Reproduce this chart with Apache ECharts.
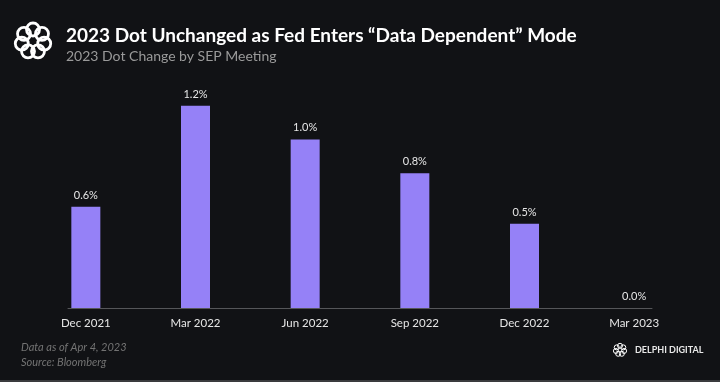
<!DOCTYPE html>
<html><head><meta charset="utf-8">
<script src="https://cdn.jsdelivr.net/npm/echarts@6/dist/echarts.min.js"></script>
<style>html,body{margin:0;padding:0;background:#111215;}#c{width:720px;height:382px;}</style>
</head><body><div id="c"></div>
<script>
const categories = ['Dec 2021','Mar 2022','Jun 2022','Sep 2022','Dec 2022','Mar 2023'];
const dotChange = [0.6, 1.2, 1.0, 0.8, 0.5, 0.0];
const titleText = '2023 Dot Unchanged as Fed Enters \u201cData Dependent\u201d Mode';
const subtitleText = '2023 Dot Change by SEP Meeting';
const noteLines = ['Data as of Apr 4, 2023', 'Source: Bloomberg'];

const chart = echarts.init(document.getElementById('c'));
const FONT = 'Lato';

function ringLogo(cx, cy, R, r, n, lw) {
  const els = [];
  for (let i = 0; i < n; i++) {
    const a = -Math.PI / 2 + i * 2 * Math.PI / n;
    els.push({type:'circle', shape:{cx: cx + R*Math.cos(a), cy: cy + R*Math.sin(a), r: r},
      style:{fill:'none', stroke:'#ffffff', lineWidth: lw}, silent:true});
  }
  return els;
}

const graphics = [].concat(
  ringLogo(33, 41, 11.5, 6.5, 7, 2.8),
  ringLogo(620, 350, 4.2, 2.5, 7, 1),
  [
    {type:'text', left:66, top:26, style:{text:titleText, fill:'#ffffff', font:'bold 19px ' + FONT}},
    {type:'text', left:66, top:49, style:{text:subtitleText, fill:'#9a9a9a', font:'14px ' + FONT}},
    {type:'text', left:21, top:340, style:{text:noteLines.join('\n'), fill:'#737373', font:'italic 11px ' + FONT, lineHeight:15}},
    {type:'text', left:635, top:346, style:{text:'DELPHI DIGITAL', fill:'#e8e8e8', font:'bold 9px ' + FONT}},
    {type:'rect', left:0, top:380, shape:{width:720, height:2}, style:{fill:'#3a3b3e'}, silent:true}
  ]
);

chart.setOption({
  backgroundColor:'#111215',
  animation:false,
  graphic: graphics,
  grid:[
    {left:31, right:31, top:72, bottom:74},
    {left:68, right:68, top:72, bottom:74}
  ],
  xAxis:[
    {type:'category', data:categories, gridIndex:0,
     axisLine:{show:false}, axisTick:{show:false},
     axisLabel:{color:'#e6e6e6', fontFamily:FONT, fontSize:11.5, margin:9}},
    {type:'value', gridIndex:1, min:0, max:1, position:'bottom',
     axisLine:{show:true, lineStyle:{color:'#555659', width:1}},
     axisTick:{show:false}, axisLabel:{show:false}, splitLine:{show:false}}
  ],
  yAxis:[
    {type:'value', gridIndex:0, min:0, max:1.4, show:false, splitLine:{show:false}},
    {type:'value', gridIndex:1, min:0, max:1, show:false, splitLine:{show:false}}
  ],
  series:[{
    type:'bar', xAxisIndex:0, yAxisIndex:0, data:dotChange, barWidth:29,
    itemStyle:{color:'#9581f7'},
    label:{show:true, position:'top', distance:6, color:'#e6e6e6', fontFamily:FONT, fontSize:11,
      formatter: p => p.value.toFixed(1) + '%'}
  }]
});
</script></body></html>
